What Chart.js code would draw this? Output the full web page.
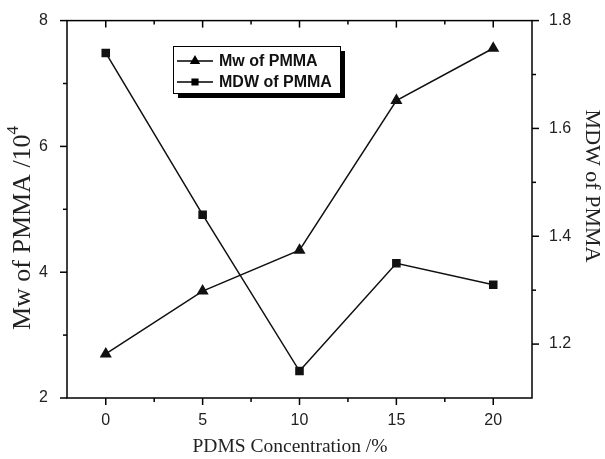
<!DOCTYPE html>
<html>
<head>
<meta charset="utf-8">
<script src="https://cdn.jsdelivr.net/npm/chart.js@4"></script>
<style>
    html, body { margin: 0; padding: 0; background: #fff; }
    #wrap { width: 605px; height: 459px; position: relative; }
</style>
</head>
<body>
<div id="wrap"><canvas id="mwChart"></canvas></div>
<script>
// PDMS concentration (%)
const concentrations = [0, 5, 10, 15, 20];
// Mw of PMMA (/10^4), left axis
const mwValues = [2.70, 3.70, 4.35, 6.73, 7.56];
// MDW of PMMA, right axis
const mdwValues = [1.74, 1.44, 1.15, 1.35, 1.31];

const xTicks = [0, 5, 10, 15, 20];
const leftTicks = [2, 4, 6, 8];
const rightTicks = [1.2, 1.4, 1.6, 1.8];

const labelFont = { family: "'Liberation Sans', Arial, sans-serif", size: 16 };
const titleFamily = "'Liberation Serif', 'Times New Roman', serif";

// frame, major/minor ticks, axis titles and the legend box
const framePlugin = {
    id: 'frame',
    afterDraw(chart) {
        const ctx = chart.ctx;
        const area = chart.chartArea;
        const x = chart.scales.x, yl = chart.scales.yLeft, yr = chart.scales.yRight;
        ctx.save();
        ctx.strokeStyle = '#000';
        ctx.lineWidth = 1.5;
        ctx.strokeRect(area.left, area.top, area.right - area.left, area.bottom - area.top);

        const mids = (vals) => vals.slice(1).map((v, i) => (v + vals[i]) / 2);
        const tick = (x1, y1, x2, y2) => {
            ctx.beginPath(); ctx.moveTo(x1, y1); ctx.lineTo(x2, y2); ctx.stroke();
        };
        // x ticks: outward at bottom, inward at top
        xTicks.forEach(v => {
            const px = x.getPixelForValue(v);
            tick(px, area.bottom, px, area.bottom + 7);
            tick(px, area.top, px, area.top + 7);
        });
        mids(xTicks).forEach(v => {
            const px = x.getPixelForValue(v);
            tick(px, area.bottom, px, area.bottom + 4);
            tick(px, area.top, px, area.top + 4);
        });
        leftTicks.forEach(v => {
            const py = yl.getPixelForValue(v);
            tick(area.left - 7, py, area.left, py);
        });
        mids(leftTicks).forEach(v => {
            const py = yl.getPixelForValue(v);
            tick(area.left - 4, py, area.left, py);
        });
        rightTicks.forEach(v => {
            const py = yr.getPixelForValue(v);
            tick(area.right, py, area.right + 7, py);
        });
        mids(rightTicks).forEach(v => {
            const py = yr.getPixelForValue(v);
            tick(area.right, py, area.right + 4, py);
        });

        // axis titles
        ctx.fillStyle = '#222';
        ctx.textBaseline = 'middle';
        ctx.font = '19.5px ' + titleFamily;
        ctx.textAlign = 'center';
        ctx.fillText('PDMS Concentration /%', 290, 447);

        ctx.save();
        ctx.translate(23, 228);
        ctx.rotate(-Math.PI / 2);
        ctx.font = '26px ' + titleFamily;
        const main = 'Mw of PMMA /10';
        const w1 = ctx.measureText(main).width;
        ctx.font = '17px ' + titleFamily;
        const w2 = ctx.measureText('4').width;
        ctx.font = '26px ' + titleFamily;
        ctx.textAlign = 'left';
        ctx.fillText(main, -(w1 + w2) / 2, 0);
        ctx.font = '17px ' + titleFamily;
        ctx.fillText('4', -(w1 + w2) / 2 + w1, -9);
        ctx.restore();

        ctx.save();
        ctx.translate(592, 186);
        ctx.rotate(Math.PI / 2);
        ctx.font = '22px ' + titleFamily;
        ctx.textAlign = 'center';
        ctx.fillText('MDW of PMMA', 0, 0);
        ctx.restore();

        // legend with drop shadow
        const lx = 173, ly = 46, lw = 167, lh = 47;
        ctx.fillStyle = '#000';
        ctx.fillRect(lx + 5, ly + 5, lw, lh);
        ctx.fillStyle = '#fff';
        ctx.fillRect(lx, ly, lw, lh);
        ctx.lineWidth = 1;
        ctx.strokeRect(lx + 0.5, ly + 0.5, lw, lh);
        ctx.font = "bold 16px 'Liberation Sans', Arial, sans-serif";
        ctx.textAlign = 'left';
        chart.data.datasets.forEach((ds, i) => {
            const cy = ly + 15 + i * 21;
            ctx.strokeStyle = '#000';
            ctx.lineWidth = 1.5;
            tick(lx + 4, cy, lx + 40, cy);
            Chart.helpers.drawPoint(ctx, { pointStyle: ds.pointStyle, radius: ds.pointRadius - 1, rotation: 0, borderWidth: 1 }, lx + 22, cy);
            ctx.fillStyle = '#000';
            ctx.fill();
            ctx.fillStyle = '#111';
            ctx.fillText(ds.label, lx + 46, cy + 1);
        });
        ctx.restore();
    }
};

const ctx = document.getElementById('mwChart').getContext('2d');
const mwChart = new Chart(ctx, {
    type: 'line',
    data: {
        datasets: [{
            label: 'Mw of PMMA',
            data: concentrations.map((c, i) => ({ x: c, y: mwValues[i] })),
            yAxisID: 'yLeft',
            borderColor: '#111',
            backgroundColor: '#111',
            borderWidth: 1.5,
            pointStyle: 'triangle',
            pointRadius: 5.5,
            tension: 0
        }, {
            label: 'MDW of PMMA',
            data: concentrations.map((c, i) => ({ x: c, y: mdwValues[i] })),
            yAxisID: 'yRight',
            borderColor: '#111',
            backgroundColor: '#111',
            borderWidth: 1.5,
            pointStyle: 'rect',
            pointRadius: 5,
            tension: 0
        }]
    },
    options: {
        responsive: true,
        maintainAspectRatio: false,
        animation: false,
        layout: { padding: { top: 20, left: 0, right: 0, bottom: 0 } },
        plugins: { legend: { display: false }, tooltip: { enabled: false } },
        scales: {
            x: {
                type: 'linear',
                min: -2,
                max: 22,
                grid: { display: false },
                border: { display: false },
                afterBuildTicks: (s) => { s.ticks = xTicks.map(v => ({ value: v })); },
                afterFit: (s) => { s.height = 61; },
                ticks: { font: labelFont, color: '#222', padding: 5 }
            },
            yLeft: {
                position: 'left',
                min: 2,
                max: 8,
                grid: { display: false },
                border: { display: false },
                afterBuildTicks: (s) => { s.ticks = leftTicks.map(v => ({ value: v })); },
                afterFit: (s) => { s.width = 67; },
                ticks: { font: labelFont, color: '#222', padding: 11 }
            },
            yRight: {
                position: 'right',
                min: 1.1,
                max: 1.8,
                grid: { display: false },
                border: { display: false },
                afterBuildTicks: (s) => { s.ticks = rightTicks.map(v => ({ value: v })); },
                afterFit: (s) => { s.width = 73; },
                ticks: { font: labelFont, color: '#222', padding: 9, callback: (v) => v.toFixed(1) }
            }
        }
    },
    plugins: [framePlugin]
});
</script>
</body>
</html>
